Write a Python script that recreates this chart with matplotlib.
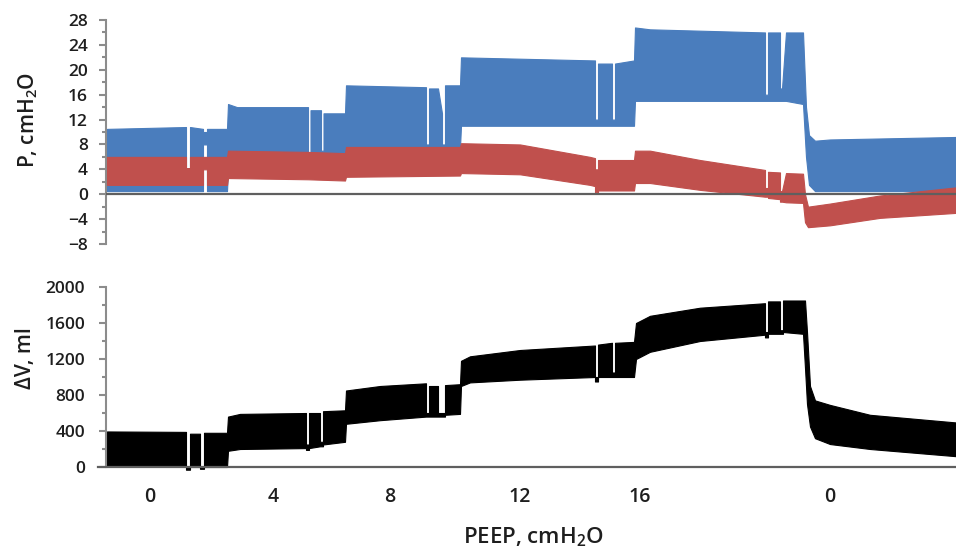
import matplotlib
matplotlib.use("Agg")
import matplotlib.pyplot as plt
from matplotlib.ticker import MultipleLocator

plt.rcParams['font.family'] = ['Open Sans', 'DejaVu Sans']
plt.rcParams['font.weight'] = 'semibold'
plt.rcParams['mathtext.fontset'] = 'custom'
plt.rcParams['mathtext.rm'] = 'Open Sans:semibold'

# ---- data: envelopes (min / max) of the recorded signals, time in arbitrary units ----
paw_t = [0, 79, 79, 83, 83, 96, 96, 100, 100, 120, 121, 130, 201, 201, 203.5, 203.5, 214, 214,
         216.5, 216.5, 238, 239, 319, 319, 322, 322, 331, 335, 335, 338, 338, 353, 354, 488, 488,
         491, 491, 505, 505, 508, 508, 527, 528, 543, 658, 658, 661, 661, 673, 673, 675, 679, 696,
         699, 702, 708, 723, 849]
paw_lo = [0.5, 0.5, 0.5, 0.5, 0.5, 0.5, 8.0, 8.0, 0.5, 0.5, 4.0, 4.0, 4.0, 4.0, 4.0, 4.0, 4.0, 4.0,
          4.0, 4.0, 4.0, 7.5, 7.5, 7.5, 7.5, 7.5, 7.5, 7.5, 7.5, 7.5, 7.5, 7.5, 11.0, 11.0, 11.0,
          11.0, 11.0, 11.0, 11.0, 11.0, 11.0, 11.0, 15.0, 15.0, 15.0, 15.0, 15.0, 15.0, 15.0, 15.0, 15.0, 15.0, 14.5,
          6.0, 1.5, 0.5, 0.5, 0.5]
paw_hi = [10.5, 10.8, 4.2, 4.2, 10.8, 10.5, 10.0, 10.0, 10.5, 10.5, 14.5, 14.0, 14.0, 5.0, 5.0, 13.5, 13.5, 7.0,
          7.0, 13.0, 13.0, 17.5, 17.2, 8.0, 8.0, 17.0, 17.0, 13.0, 8.0, 8.0, 17.5, 17.5, 22.0, 21.5, 12.0,
          12.0, 21.0, 21.0, 12.0, 12.0, 21.0, 21.5, 26.8, 26.5, 26.0, 16.0, 16.0, 26.0, 26.0, 17.0, 17.0, 26.0, 26.0,
          14.0, 9.5, 8.6, 8.8, 9.2]

ptp_t = [0, 79, 79, 83, 83, 96, 96, 100, 100, 120, 121, 201, 238, 239, 353, 354, 413, 483, 488,
         488, 491, 491, 527, 528, 543, 593, 658, 658, 661, 661, 673, 673, 675, 679, 696, 698, 701,
         723, 773, 849]
ptp_lo = [1.5, 1.5, 1.5, 1.5, 1.5, 1.5, 4.0, 4.0, 1.5, 1.5, 2.6, 2.4, 2.2, 2.8, 3.0, 3.4, 3.2, 1.5, 1.3,
          0.3, 0.3, 0.6, 0.6, 1.8, 1.8, 0.7, -0.4, -0.4, -0.4, -0.6, -0.8, -1.2, -1.2, -1.3, -1.4, -4.5, -5.3,
          -5.0, -3.8, -3.0]
ptp_hi = [6.0, 6.0, 4.2, 4.2, 6.0, 6.0, 6.0, 6.0, 6.0, 6.0, 7.0, 6.8, 6.6, 7.6, 7.6, 8.2, 8.0, 6.0, 5.8,
          4.0, 4.0, 5.5, 5.5, 7.0, 7.0, 5.5, 3.9, 1.0, 1.0, 3.6, 3.5, 0.5, 0.5, 3.4, 3.3, 0.0, -2.0,
          -1.5, -0.2, 1.1]

dv_t = [0, 79, 79, 83, 83, 93, 93, 97, 97, 120, 121, 133, 199, 199, 202, 202, 213, 213, 216, 216,
        238, 239, 273, 319, 319, 322, 322, 331, 331, 338, 338, 353, 354, 363, 413, 488, 488, 491, 491,
        505, 505, 508, 508, 527, 529, 543, 593, 658, 658, 661, 661, 673, 673, 676, 676, 696, 698, 700,
        703, 708, 723, 763, 849]
dv_lo = [5, 5, -30, -30, 0, 0, -20, -20, 0, 0, 180, 200, 210, 190, 190, 210, 230, 230, 230, 250,
         280, 480, 520, 560, 560, 560, 560, 560, 560, 560, 580, 590, 900, 940, 970, 1000, 950, 950, 1000,
         1000, 1000, 1000, 1000, 1000, 1200, 1280, 1400, 1470, 1440, 1440, 1480, 1480, 1480, 1480, 1500, 1480, 1100, 700,
         450, 320, 255, 200, 120]
dv_hi = [395, 390, -5, -5, 370, 370, 0, 0, 380, 380, 560, 590, 600, 250, 250, 600, 600, 280, 280, 620,
         630, 850, 900, 930, 600, 600, 900, 900, 600, 600, 910, 920, 1180, 1230, 1300, 1350, 1000, 1000, 1360,
         1380, 1050, 1050, 1380, 1390, 1600, 1680, 1770, 1820, 1500, 1500, 1840, 1840, 1520, 1520, 1850, 1850, 1850, 1500,
         900, 740, 690, 580, 495]

peep_pos = [43, 166, 283, 413, 533, 723]
peep_labels = ["0", "4", "8", "12", "16", "0"]

# ---- styling ----
BLUE = "#4a7dbd"
RED = "#c0504d"
SPINE = "#8c8c8c"
ZERO = "#5f5f5f"
TXT = "#1e1e1e"

W, H = 956, 550
fig = plt.figure(figsize=(W / 100, H / 100), dpi=100)

def axes_px(left, top, right, bottom):
    return fig.add_axes([left / W, 1 - bottom / H, (right - left) / W, (bottom - top) / H])

ax1 = axes_px(106, 20, 956, 244)
ax2 = axes_px(106, 287, 956, 476)

# top panel
ax1.fill_between(paw_t, paw_lo, paw_hi, color=BLUE, lw=0.8, zorder=2)
ax1.fill_between(ptp_t, ptp_lo, ptp_hi, color=RED, lw=0.8, zorder=3)
ax1.axhline(0, color=ZERO, lw=1.6, zorder=4)
ax1.set_xlim(-1, 849)
ax1.set_ylim(-8, 28)
ax1.yaxis.set_major_locator(MultipleLocator(4))
ax1.yaxis.set_minor_locator(MultipleLocator(2))
ax1.set_xticks([])

# bottom panel
ax2.fill_between(dv_t, dv_lo, dv_hi, color="black", lw=0.8, zorder=2)
ax2.axhline(0, color=ZERO, lw=1.6, zorder=4, xmin=-0.01, clip_on=False)
ax2.set_xlim(-1, 849)
ax2.set_ylim(-100, 2000)
ax2.set_yticks(range(0, 2001, 400))
ax2.yaxis.set_minor_locator(MultipleLocator(200))
ax2.spines['left'].set_bounds(0, 2000)
ax2.set_xticks(peep_pos)
ax2.set_xticklabels(peep_labels)

for ax, pad in ((ax1, 8), (ax2, 10)):
    for s in ('top', 'right', 'bottom'):
        ax.spines[s].set_visible(False)
    ax.spines['left'].set_color(SPINE)
    ax.spines['left'].set_linewidth(1.5)
    ax.tick_params(axis='y', which='major', length=5, width=1.5, color=SPINE,
                   labelsize=12.5, labelcolor=TXT, pad=pad)
    ax.tick_params(axis='y', which='minor', length=3, width=1.5, color=SPINE)
    ax.set_facecolor('none')

ax2.tick_params(axis='x', length=0, labelsize=14, labelcolor=TXT, pad=8)

fig.text(28 / W, 1 - 120 / H, r"P, cmH$_{\mathrm{2}}$O", rotation=90, ha='center', va='center',
         fontsize=15, color=TXT)
fig.text(26 / W, 1 - 358 / H, "ΔV, ml", rotation=90, ha='center', va='center',
         fontsize=15, color=TXT)
fig.text(533 / W, 1 - 537 / H, r"PEEP, cmH$_{\mathrm{2}}$O", ha='center', va='center',
         fontsize=16, color=TXT)

fig.savefig("out.png", dpi=100)
